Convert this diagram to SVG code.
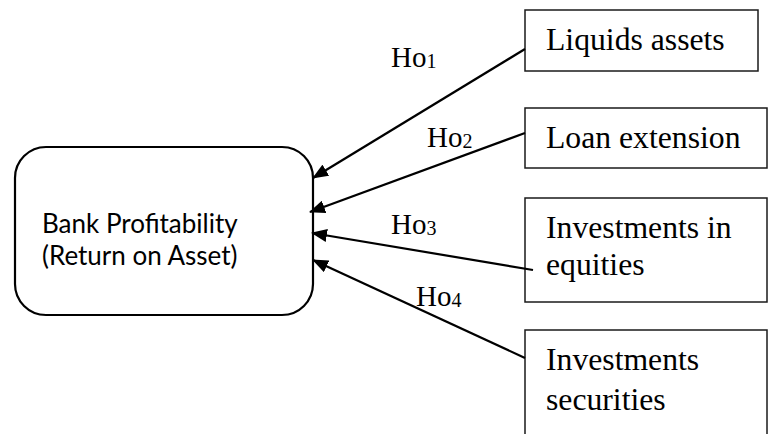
<svg xmlns="http://www.w3.org/2000/svg" width="768" height="434" viewBox="0 0 768 434">
  <style>
    .bg { fill: #ffffff; }
    .main { fill: #ffffff; stroke: #000000; stroke-width: 2.2; }
    .box { fill: #ffffff; stroke: #1a1a1a; stroke-width: 1.5; }
    .sans { font-family: "Lato", "Open Sans", "Liberation Sans", sans-serif; font-size: 26px; fill: #000000; }
    .serif { font-family: "Liberation Serif", "Times New Roman", serif; font-size: 31.7px; fill: #000000; }
    .lbl { font-family: "Liberation Serif", "Times New Roman", serif; font-size: 29px; fill: #000000; }
    .sub { font-size: 20px; }
    .conn { stroke: #000000; stroke-width: 2.2; fill: none; marker-end: url(#arrow); }
  </style>
  <defs>
    <marker id="arrow" markerUnits="userSpaceOnUse" markerWidth="16" markerHeight="13" viewBox="0 0 16 13" refX="15" refY="6.5" orient="auto">
      <path d="M0,0 L16,6.5 L0,13 z" fill="#000000"/>
    </marker>
  </defs>
  <rect class="bg" x="0" y="0" width="768" height="434"/>

  <g id="node-bank">
    <rect class="main" x="15" y="147" width="298" height="168" rx="31" ry="31"/>
    <text class="sans" x="42" y="233">Bank Profitability</text>
    <text class="sans" x="42" y="265">(Return on Asset)</text>
  </g>

  <g id="node-liquid">
    <rect class="box" x="525" y="10" width="233" height="61"/>
    <text class="serif" x="546" y="50">Liquids assets</text>
  </g>

  <g id="node-loan">
    <rect class="box" x="525" y="108" width="242" height="60"/>
    <text class="serif" x="546" y="148">Loan extension</text>
  </g>

  <g id="node-equities">
    <rect class="box" x="525" y="198" width="242" height="104"/>
    <text class="serif" x="546" y="238">Investments in</text>
    <text class="serif" x="546" y="275">equities</text>
  </g>

  <g id="node-securities">
    <rect class="box" x="525" y="330" width="242" height="130"/>
    <text class="serif" x="546" y="370">Investments</text>
    <text class="serif" x="546" y="410">securities</text>
  </g>

  <g id="connectors">
    <line class="conn" x1="525" y1="49" x2="313" y2="178"/>
    <line class="conn" x1="525" y1="133" x2="310" y2="212"/>
    <line class="conn" x1="533" y1="270" x2="312" y2="233"/>
    <line class="conn" x1="525" y1="358" x2="313" y2="260"/>
    <text class="lbl" x="391" y="67">Ho<tspan class="sub" dy="1">1</tspan></text>
    <text class="lbl" x="427" y="147">Ho<tspan class="sub" dy="1">2</tspan></text>
    <text class="lbl" x="391" y="234">Ho<tspan class="sub" dy="1">3</tspan></text>
    <text class="lbl" x="416" y="306">Ho<tspan class="sub" dy="1">4</tspan></text>
  </g>
</svg>
